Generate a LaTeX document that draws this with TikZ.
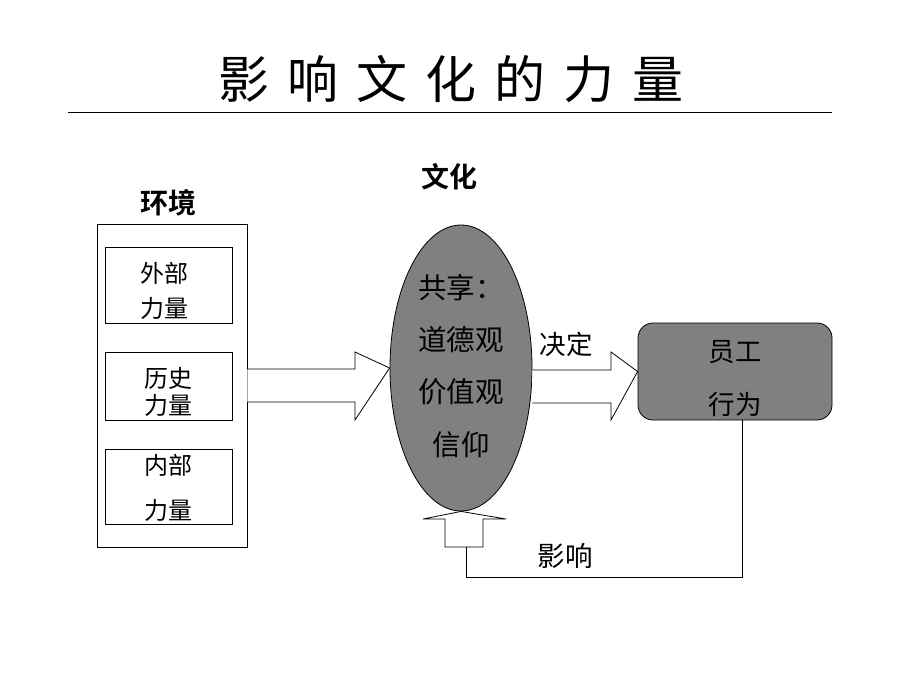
\documentclass[tikz,border=0pt]{standalone}
\usepackage{fontspec}
\setmainfont{Noto Sans CJK SC}
\newfontfamily\cjkbold{Noto Sans CJK SC Bold}
\usetikzlibrary{shapes.geometric}
\definecolor{fillgray}{RGB}{128,128,128}
\tikzset{
  box/.style={draw=black, line width=0.9pt, minimum width=127pt, align=center},
  lbl/.style={inner sep=0pt, font=\fontsize{24}{30}\selectfont},
  big/.style={inner sep=0pt, font=\fontsize{28.5}{30}\selectfont},
  bold/.style={inner sep=0pt, font=\cjkbold\fontsize{28}{30}\selectfont},
  blockarrow/.style={draw=black, line width=0.8pt, fill=white},
}
\begin{document}
\begin{tikzpicture}[x=1pt,y=-1pt]
\useasboundingbox (0,0) rectangle (900,675);
% title
\node[inner sep=0pt, font=\fontsize{51}{52}\selectfont] (title) at (451,79)
  {影\hspace{18pt}响\hspace{18pt}文\hspace{18pt}化\hspace{18pt}的\hspace{18pt}力\hspace{18pt}量};
\coordinate (tl) at (68,112);
\coordinate (tr) at (832,112);
\draw[line width=0.8pt] (tl) -- (tr);

% labels
\node[bold] (wenhua) at (449,177) {文化};
\node[bold] (huanjing) at (168,203) {环境};

% environment box
\node[draw=black, line width=0.9pt, minimum width=150pt, minimum height=323pt, inner sep=0pt] (env) at (172,385.5) {};
\node[draw=black, line width=0.9pt, minimum width=127pt, minimum height=76pt, inner sep=0pt] (b1) at (168.5,285) {};
\node[lbl] (b1a) at (164,273) {外部};
\node[lbl] (b1b) at (164,308) {力量};
\node[draw=black, line width=0.9pt, minimum width=127pt, minimum height=68pt, inner sep=0pt] (b2) at (168.5,386) {};
\node[lbl] (b2a) at (168,378) {历史};
\node[lbl] (b2b) at (168,405) {力量};
\node[draw=black, line width=0.9pt, minimum width=127pt, minimum height=75pt, inner sep=0pt] (b3) at (168.5,486.5) {};
\node[lbl] (b3a) at (168,465) {内部};
\node[lbl] (b3b) at (168,510) {力量};

% ellipse
\node[ellipse, draw=black, line width=0.8pt, fill=fillgray, minimum width=142pt, minimum height=286pt, inner sep=0pt] (cult) at (461,368) {};
\node[big, anchor=west] (c1) at (418,288) {共享：};
\node[big] (c2) at (461,340) {道德观};
\node[big] (c3) at (461,392) {价值观};
\node[big] (c4) at (461,445) {信仰};

% rounded rect
\node[draw=black, line width=0.8pt, fill=fillgray, rounded corners=15pt, minimum width=194pt, minimum height=97pt, inner sep=0pt] (emp) at (735,371.5) {};
\node[big, font=\fontsize{26.5}{30}\selectfont] (e1) at (735,352) {员工};
\node[big, font=\fontsize{26.5}{30}\selectfont] (e2) at (735,404) {行为};

% left block arrow
\draw[blockarrow] (env.east |- 0,369) -- (355,369) -- (355,352) -- (cult.west) -- (355,420) -- (355,402) -- (env.east |- 0,402);
% right block arrow
\draw[blockarrow] (cult.east |- 0,370) -- (611,370) -- (611,352) -- (emp.west) -- (611,420) -- (611,403) -- (cult.east |- 0,403);
\node[big, font=\fontsize{26.5}{30}\selectfont] (jueding) at (566,344) {决定};

% up arrow
\draw[blockarrow] (445,547) -- (445,519) -- (423,519) -- (cult.south) -- (506,519) -- (483,519) -- (483,547) -- cycle;
\coordinate (fb) at (466,547);
\coordinate (corner) at (742,577);
\draw[line width=0.8pt] (emp.south -| corner) -- (corner) -- (fb |- corner) -- (fb);
\node[big, font=\fontsize{27.5}{30}\selectfont] (yingxiang) at (565,556) {影响};
\end{tikzpicture}
\end{document}
